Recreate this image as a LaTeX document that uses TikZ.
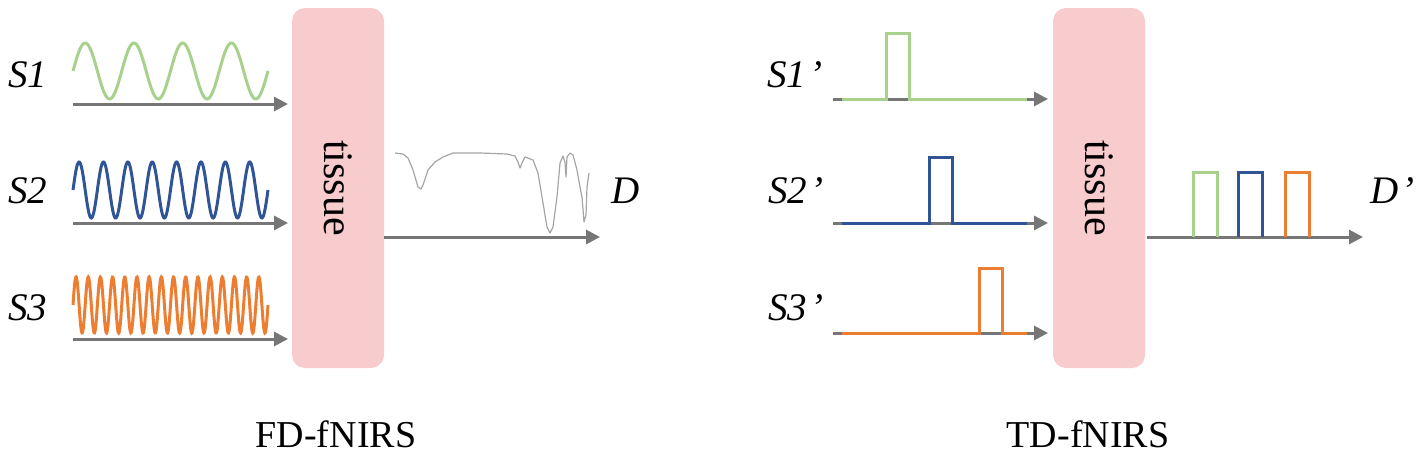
\documentclass[tikz,border=0pt]{standalone}
\usepackage{fontspec}
\setmainfont{Liberation Serif}
\usetikzlibrary{arrows.meta}
\definecolor{sgreen}{RGB}{169,209,142}
\definecolor{sblue}{RGB}{47,85,151}
\definecolor{sorange}{RGB}{237,125,49}
\definecolor{axisgray}{RGB}{118,118,118}
\definecolor{specgray}{RGB}{165,165,165}
\definecolor{tissuepink}{RGB}{248,203,205}
\tikzset{
  tissuebox/.style={fill=tissuepink, draw=none, rounded corners=6.5pt, minimum width=46pt, minimum height=180pt, inner sep=0pt},
  tissuetext/.style={rotate=-90, font=\fontsize{21}{24}\selectfont},
  axisarrow/.style={draw=axisgray, line width=1.5pt, -{Triangle[length=7pt,width=7pt]}},
  sig/.style={line width=1.5pt, line join=miter},
  slabel/.style={font=\fontsize{19.5}{22}\selectfont\itshape, anchor=base west, inner sep=0pt},
  caption/.style={font=\fontsize{19}{22}\selectfont, anchor=base, inner sep=0pt},
}
\newcommand{\prm}{\kern1.5pt’}
\begin{document}
\begin{tikzpicture}[x=0.5pt,y=-0.5pt]
\useasboundingbox (0,0) rectangle (1418,455);
% ---------------- FD-fNIRS ----------------
\node[tissuebox] (tL) at (338,188) {};
\node[tissuetext] (tLt) at (tL.center) {tissue};
\coordinate (a1s) at (73,104);
\coordinate (a2s) at (73,223);
\coordinate (a3s) at (73,339);
\coordinate (a1e) at (288,104);
\coordinate (a2e) at (288,223);
\coordinate (a3e) at (288,339);
\draw[axisarrow] (a1s) -- (a1e);
\draw[axisarrow] (a2s) -- (a2e);
\draw[axisarrow] (a3s) -- (a3e);
\draw[sig, sgreen, domain=73:268, samples=200] plot (\x, {71 - 28*sin((\x-73)/195*1440)});
\draw[sig, sblue, domain=73:268, samples=300] plot (\x, {190 - 28*sin((\x-73)/195*2880)});
\draw[sig, sorange, domain=73:268, samples=500] plot (\x, {305 - 28*sin((\x-73)/195*5760)});
\node[slabel] (s1) at (8,87) {S1};
\node[slabel] (s2) at (8,203) {S2};
\node[slabel] (s3) at (8,320) {S3};
\coordinate (dLs) at (384,237);
\coordinate (dLe) at (600,237);
\draw[axisarrow] (dLs) -- (dLe);
\draw[specgray, line width=0.6pt, line join=round] plot coordinates {
(395,153) (403,154) (408,158) (413,170) (418,187) (421,189) (423,185) (428,170)
(435,162) (443,157) (453,153) (480,153) (507,154) (515,156) (518,162) (520,168)
(522,163) (525,157) (533,160) (538,173) (543,203) (547,227) (550,233) (553,227)
(557,197) (560,163) (563,156) (565,162) (566,177) (567,157) (570,153) (573,155)
(577,170) (580,187) (582,197) (584,222) (586,215) (587,187) (589,173)};
\node[slabel] (dL) at (611,203) {D};
\node[caption] (fd) at (336,447) {FD-fNIRS};
% ---------------- TD-fNIRS ----------------
\node[tissuebox] (tR) at (1099,188) {};
\node[tissuetext] (tRt) at (tR.center) {tissue};
\coordinate (b1s) at (833,99);
\coordinate (b2s) at (833,223);
\coordinate (b3s) at (833,333);
\coordinate (b1e) at (1048,99);
\coordinate (b2e) at (1048,223);
\coordinate (b3e) at (1048,333);
\draw[axisarrow] (b1s) -- (b1e);
\draw[axisarrow] (b2s) -- (b2e);
\draw[axisarrow] (b3s) -- (b3e);
\draw[sig, sgreen] (842,99) -- (886,99) -- (886,33) -- (909,33) -- (909,99) -- (1027,99);
\draw[sig, sblue] (842,223) -- (929,223) -- (929,157) -- (952,157) -- (952,223) -- (1027,223);
\draw[sig, sorange] (842,333) -- (979,333) -- (979,268) -- (1002,268) -- (1002,333) -- (1027,333);
\node[slabel] (r1) at (767,87) {S1\prm};
\node[slabel] (r2) at (768,203) {S2\prm};
\node[slabel] (r3) at (768,320) {S3\prm};
\coordinate (dRs) at (1147,237);
\coordinate (dRe) at (1363,237);
\draw[axisarrow] (dRs) -- (dRe);
\draw[sig, sgreen] (1193,237) -- (1193,172) -- (1217,172) -- (1217,237);
\draw[sig, sblue] (1238,237) -- (1238,172) -- (1262,172) -- (1262,237);
\draw[sig, sorange] (1285,237) -- (1285,172) -- (1309,172) -- (1309,237);
\node[slabel] (dR) at (1370,203) {D\prm};
\node[caption] (td) at (1088,447) {TD-fNIRS};
\end{tikzpicture}
\end{document}
